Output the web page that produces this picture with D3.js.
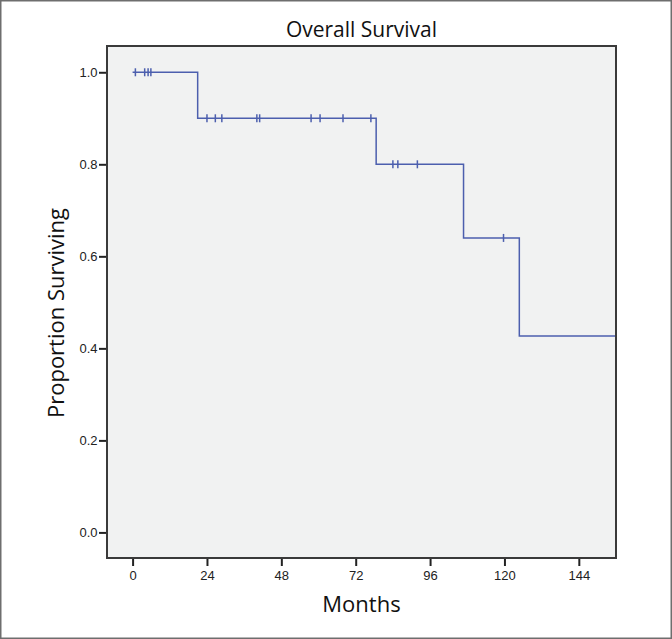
<!DOCTYPE html>
<meta charset="utf-8">
<script src="https://d3js.org/d3.v7.min.js"></script>
<style>
    body { margin: 0; background: #fff; }
    .tick text { font-family: "Liberation Sans", Arial, sans-serif; font-size: 13px; fill: #222; }
    .tick line { stroke: #222; stroke-width: 2px; }
    .lbl { font-family: "Open Sans", "Noto Sans", sans-serif; fill: #111; }
</style>
<div id="my_dataviz"></div>
<script>

    // Kaplan-Meier steps (months, proportion surviving after the step)
    const stepMonths = [0, 21.0, 78.6, 106.8, 124.8];
    const stepSurvival = [1.0, 0.9, 0.8, 0.64, 0.4267];
    const lastFollowUp = 156;

    // censored observations (months)
    const censorMonths = [0.9, 3.9, 5.0, 5.9,
        24.0, 26.7, 28.8, 40.1, 41.0, 57.6, 60.5, 67.9, 76.9,
        84.0, 85.6, 91.9,
        119.7];

    const xTicks = [0, 24, 48, 72, 96, 120, 144];
    const yTicks = [0.0, 0.2, 0.4, 0.6, 0.8, 1.0];

    // plot box inside the 672x639 picture
    const margin = {top: 46, right: 56, bottom: 81, left: 107},
        W = 672, H = 639,
        width = W - margin.left - margin.right,
        height = H - margin.top - margin.bottom;

    const root = d3.select("#my_dataviz")
        .append("svg")
        .attr("width", W)
        .attr("height", H);

    // outer frame
    root.append("rect")
        .attr("x", 0.75).attr("y", 0.75)
        .attr("width", W - 1.5).attr("height", H - 1.5)
        .attr("fill", "#fff")
        .attr("stroke", "#6e6e6e")
        .attr("stroke-width", 1.5);

    const svg = root.append("g")
        .attr("transform", `translate(${margin.left}, ${margin.top})`);

    const x = d3.scaleLinear()
        .domain([-8.26, lastFollowUp])
        .range([0, width]);

    const y = d3.scaleLinear()
        .domain([-0.0556, 1.0571])
        .range([height, 0]);

    // plot background
    svg.append("rect")
        .attr("width", width)
        .attr("height", height)
        .attr("fill", "#f1f2f2");

    // axes
    svg.append("g")
        .attr("transform", `translate(0, ${height})`)
        .call(d3.axisBottom(x).tickValues(xTicks).tickSize(8).tickPadding(5))
        .call(g => g.select(".domain").remove());

    svg.append("g")
        .call(d3.axisLeft(y).tickValues(yTicks).tickFormat(d3.format(".1f")).tickSize(8).tickPadding(1.5))
        .call(g => g.select(".domain").remove());

    // survival curve
    const pts = stepMonths.map((m, i) => [m, stepSurvival[i]]);
    pts.push([lastFollowUp, stepSurvival[stepSurvival.length - 1]]);

    const line = d3.line()
        .x(d => x(d[0]))
        .y(d => y(d[1]))
        .curve(d3.curveStepAfter);

    svg.append("path")
        .datum(pts)
        .attr("fill", "none")
        .attr("stroke", "#4c5fae")
        .attr("stroke-width", 1.5)
        .attr("d", line);

    // survival value at a given time
    const survAt = function(m) {
        let s = 1;
        stepMonths.forEach((t, i) => { if (t <= m) s = stepSurvival[i]; });
        return s;
    };

    svg.selectAll("mycensor")
        .data(censorMonths)
        .join("line")
        .attr("x1", d => x(d))
        .attr("x2", d => x(d))
        .attr("y1", d => y(survAt(d)) - 4)
        .attr("y2", d => y(survAt(d)) + 4)
        .attr("stroke", "#4c5fae")
        .attr("stroke-width", 1.5);

    // plot border
    svg.append("rect")
        .attr("width", width)
        .attr("height", height)
        .attr("fill", "none")
        .attr("stroke", "#3a3a3a")
        .attr("stroke-width", 2);

    // titles
    root.append("text")
        .attr("class", "lbl")
        .attr("x", margin.left + width / 2)
        .attr("y", 37)
        .attr("text-anchor", "middle")
        .style("font-size", "21px")
        .text("Overall Survival");

    root.append("text")
        .attr("class", "lbl")
        .attr("x", 361.5)
        .attr("y", 612)
        .attr("text-anchor", "middle")
        .style("font-size", "22px")
        .text("Months");

    root.append("text")
        .attr("class", "lbl")
        .attr("transform", "translate(64, 313) rotate(-90)")
        .attr("text-anchor", "middle")
        .style("font-size", "22px")
        .text("Proportion Surviving");

</script>
